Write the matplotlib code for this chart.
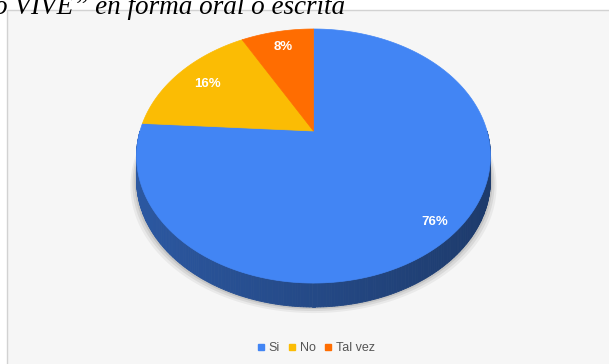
"""3D-style pie (Google Sheets look) of the survey answer shares."""

import matplotlib

matplotlib.use("Agg")
import matplotlib.pyplot as plt
import numpy as np
from matplotlib.colors import to_rgb
from matplotlib.lines import Line2D
from matplotlib.patches import Polygon, Rectangle

categories = ["Si", "No", "Tal vez"]
shares = [76, 16, 8]
colors = ["#4285f4", "#fbbc04", "#ff6d01"]
title_text = "o VIVE\u201d en forma oral o escrita"

W, H = 609, 364
CX, CY = 313.5, 131.0           # where the pie centre lands on screen (px)
A, B, K = 173.5, 122.1, 0.197   # perspective: horizontal / vertical scale, depth factor
DEPTH = 24                      # thickness of the disc (px)
LABEL_R = [0.89, 0.78, 0.82]    # label distance from centre, per slice


def project(theta, r=1.0):
    """theta measured clockwise from 12 o'clock; returns screen px (x, y)."""
    x = r * np.sin(theta)
    z = r * np.cos(theta)
    d = 1 + K * z
    return CX + A * x / d, CY - B * z / d


fig = plt.figure(figsize=(W / 100, H / 100), dpi=100)
ax = fig.add_axes([0, 0, 1, 1])
ax.set_xlim(0, W)
ax.set_ylim(H, 0)
ax.axis("off")

# chart panel
ax.add_patch(Rectangle((7, 10), W, H, facecolor="#f6f6f6", edgecolor="#d2d2d2", lw=1))

fracs = np.array(shares, dtype=float) / sum(shares)
edges = np.concatenate([[0], np.cumsum(fracs)]) * 2 * np.pi

# soft shadow under the disc
t = np.linspace(0, 2 * np.pi, 400)
for grow, alpha in [(6, 0.05), (4, 0.07), (2, 0.09)]:
    sx, sy = project(t)
    sx = CX + (sx - CX) * (1 + grow / A)
    ax.add_patch(Polygon(np.column_stack([sx, sy + DEPTH + grow]), closed=True,
                         facecolor="#000000", alpha=alpha, lw=0))

# side wall (front half), drawn as thin strips so it can be shaded
ts = np.linspace(np.pi / 2, 3 * np.pi / 2, 240)
xs, ys = project(ts)
x_lo, x_hi = xs.min(), xs.max()
for i in range(len(ts) - 1):
    mid = 0.5 * (ts[i] + ts[i + 1])
    idx = np.searchsorted(edges, mid) - 1
    base = np.array(to_rgb(colors[idx]))
    f = 0.66 - 0.22 * ((xs[i] - x_lo) / (x_hi - x_lo))
    quad = [(xs[i], ys[i]), (xs[i + 1], ys[i + 1]),
            (xs[i + 1], ys[i + 1] + DEPTH), (xs[i], ys[i] + DEPTH)]
    ax.add_patch(Polygon(quad, closed=True, facecolor=base * f, edgecolor=base * f, lw=0.6))

# top face slices
for i, c in enumerate(colors):
    arc = np.linspace(edges[i], edges[i + 1], 200)
    px, py = project(arc)
    pts = np.vstack([[CX, CY], np.column_stack([px, py])])
    ax.add_patch(Polygon(pts, closed=True, facecolor=c, edgecolor=c, lw=0.5))

# percentage labels
for i, v in enumerate(shares):
    mid = 0.5 * (edges[i] + edges[i + 1])
    lx, ly = project(mid, LABEL_R[i])
    ax.text(lx, ly, f"{v}%", color="white", fontsize=9.5, fontweight="bold",
            family="Liberation Sans", ha="center", va="center")

# legend
handles = [Line2D([], [], marker="s", ls="none", markersize=5, color=c) for c in colors]
fig.legend(handles, categories, loc="center", bbox_to_anchor=(316 / W, 1 - 348 / H),
           ncol=3, frameon=False, handlelength=0.6, handletextpad=0.3,
           columnspacing=0.7, prop={"family": "Liberation Sans", "size": 9.0},
           labelcolor="#555555")

# caption from the page, cut off at the top
fig.text(345 / W, 1 - 13.5 / H, title_text, ha="right", va="baseline", fontsize=19.5,
         style="italic", family="Liberation Serif", color="black")

fig.savefig("out.png", dpi=100)
